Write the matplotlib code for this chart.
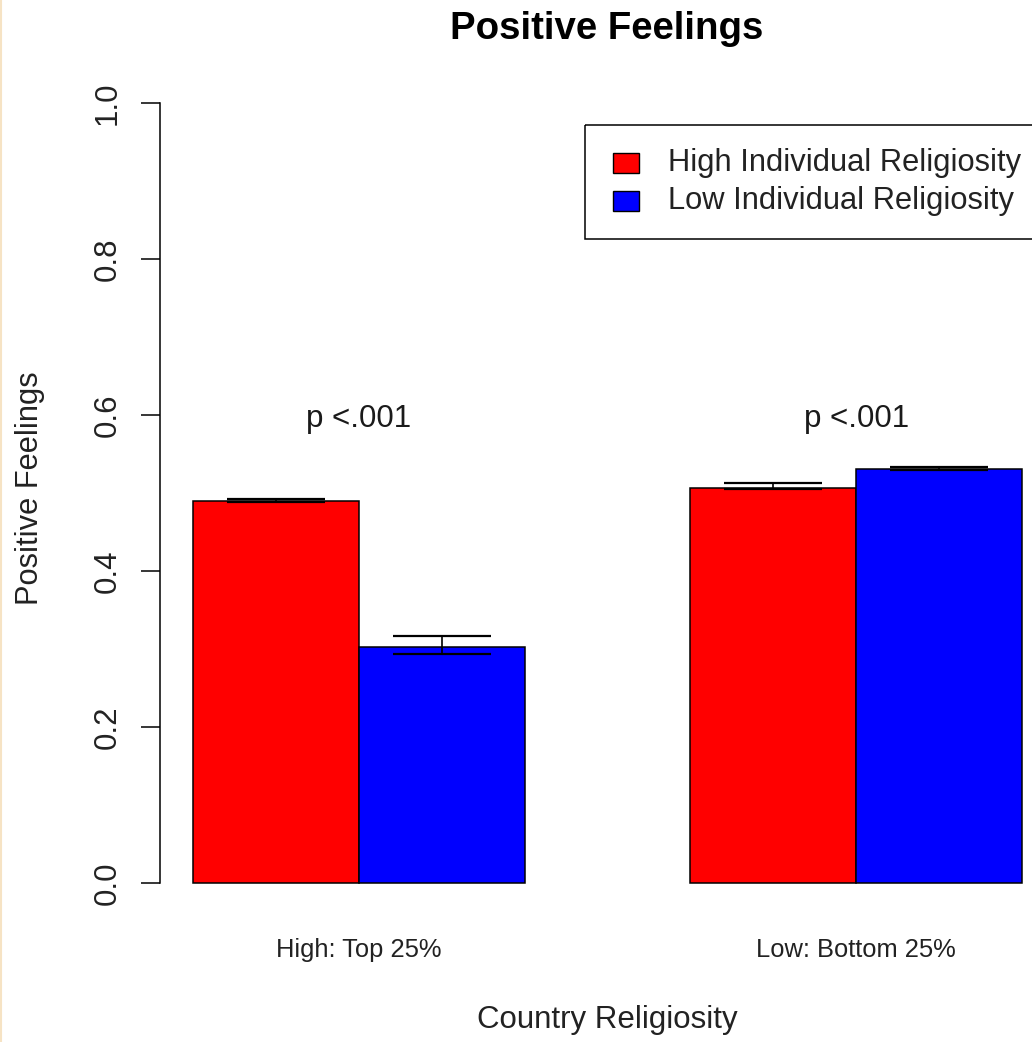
import matplotlib.pyplot as plt
from matplotlib.patches import Rectangle
from matplotlib.transforms import Affine2D

plt.rcParams['font.family'] = ['Liberation Sans', 'DejaVu Sans']

# mean positive feelings by country religiosity (groups) and individual religiosity (series)
groups = ["High: Top 25%", "Low: Bottom 25%"]
series = ["High Individual Religiosity", "Low Individual Religiosity"]
high_mean = [0.490, 0.507]
high_lo = [0.488, 0.505]
high_hi = [0.492, 0.5125]
low_mean = [0.303, 0.531]
low_lo = [0.294, 0.529]
low_hi = [0.317, 0.533]
p_labels = ["p <.001", "p <.001"]
colors = ["#FF0000", "#0000FF"]

W, H = 1032, 1042
fig = plt.figure(figsize=(W / 100, H / 100), dpi=100)
# pixel coords measured from the top-left corner
px = Affine2D().scale(1 / W, -1 / H).translate(0, 1) + fig.transFigure

ax = fig.add_axes([160 / W, (H - 914.2) / H, 895 / W, 842.4 / H])
ax.set_xlim(0.8, 6.2)
ax.set_ylim(-0.04, 1.04)

# R-style barplot: space of 1 before each group, bar width 1
centers = [2 + 3 * i for i in range(len(groups))]
x_high = [c - 0.5 for c in centers]
x_low = [c + 0.5 for c in centers]
ax.bar(x_high, high_mean, width=1, color=colors[0], edgecolor='black', linewidth=1.1)
ax.bar(x_low, low_mean, width=1, color=colors[1], edgecolor='black', linewidth=1.1)

for xs, m, lo, hi in [(x_high, high_mean, high_lo, high_hi), (x_low, low_mean, low_lo, low_hi)]:
    err = [[a - b for a, b in zip(m, lo)], [b - a for a, b in zip(m, hi)]]
    ax.errorbar(xs, m, yerr=err, fmt='none', ecolor='black', elinewidth=1.2,
                capsize=35, capthick=1.6)

for c, lab in zip(centers, p_labels):
    ax.text(c, 0.6, lab, ha='center', va='center_baseline', fontsize=22.5, color='#1a1a1a')

for s in ['top', 'right', 'bottom']:
    ax.spines[s].set_visible(False)
ax.spines['left'].set_bounds(0, 1)
ax.spines['left'].set_linewidth(1.1)
ax.set_yticks([0, 0.2, 0.4, 0.6, 0.8, 1.0])
ax.set_yticklabels(['0.0', '0.2', '0.4', '0.6', '0.8', '1.0'], rotation=90, va='center')
ax.tick_params(axis='y', length=13.7, width=1.1, pad=13, labelsize=22.5, labelcolor='#222222')
ax.set_xticks(centers)
ax.set_xticklabels(groups)
ax.tick_params(axis='x', length=0, pad=17, labelsize=18.4, labelcolor='#222222')

fig.text(607, 39, "Positive Feelings", transform=px, ha='center', va='baseline',
         fontsize=27.6, fontweight='bold')
fig.text(607, 1028, "Country Religiosity", transform=px, ha='center', va='baseline',
         fontsize=22.5, color='#222222')
fig.text(30, 488, "Positive Feelings", transform=px, ha='center', va='center',
         rotation=90, fontsize=22.2, color='#222222')

# legend box
fig.patches.append(Rectangle((585, 125), 470, 114, transform=px, fill=False,
                             edgecolor='black', linewidth=1.1))
for i, (name, col) in enumerate(zip(series, colors)):
    yc = 163 + 38 * i
    fig.patches.append(Rectangle((613, yc - 10), 26, 20, transform=px, facecolor=col,
                                 edgecolor='black', linewidth=1))
    fig.text(668, yc, name, transform=px, ha='left', va='center', fontsize=22.2,
             color='#222222')

# thin edge line along the left border
fig.lines.append(plt.Line2D([1, 1], [0, H], transform=px, color='#f6e3c4', linewidth=1.5))

fig.savefig('out.png', dpi=100)
